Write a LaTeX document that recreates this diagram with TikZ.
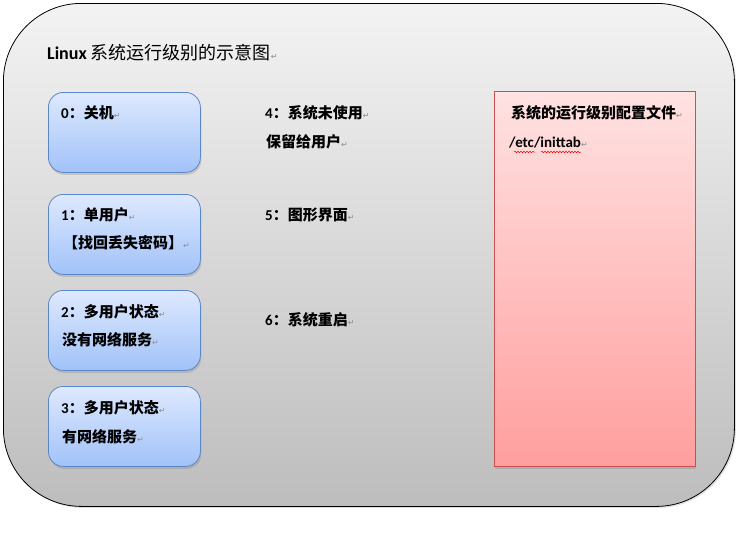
\documentclass[tikz,border=0pt]{standalone}
\usepackage{fontspec}
\setmainfont{Carlito}
\newfontfamily\cjk{Noto Sans CJK SC}
\newfontfamily\dv{DejaVu Sans}
\usetikzlibrary{shadows,decorations.pathmorphing}
\definecolor{outtop}{HTML}{F3F3F3}
\definecolor{outbot}{HTML}{BDBDBD}
\definecolor{bluetop}{HTML}{DEE9FE}
\definecolor{bluebot}{HTML}{A1C2F9}
\definecolor{blueline}{HTML}{5C87C5}
\definecolor{redtop}{HTML}{FFE2E2}
\definecolor{redbot}{HTML}{FF9E9E}
\definecolor{redline}{HTML}{C9504D}
\definecolor{retgray}{HTML}{8C8C8C}
\newcommand\rtmark{{\dv\fontsize{8}{8}\selectfont\mdseries\color{retgray}↵}}
\begin{document}
\begin{tikzpicture}[x=1pt,y=-1pt,
  outerbox/.style={draw=black, line width=0.8pt, top color=outtop, bottom color=outbot,
    rounded corners=78pt, anchor=north west, inner sep=0pt,
    drop shadow={opacity=0.25, shadow xshift=1.5pt, shadow yshift=-1.5pt}},
  bluebox/.style={draw=blueline, line width=0.8pt, top color=bluetop, bottom color=bluebot,
    rounded corners=15pt, anchor=north west, inner sep=0pt,
    minimum width=152pt, minimum height=80pt,
    drop shadow={opacity=0.3, shadow xshift=1pt, shadow yshift=-2.5pt}},
  redbox/.style={draw=redline, line width=0.8pt, top color=redtop, bottom color=redbot,
    anchor=north west, inner sep=0pt,
    drop shadow={opacity=0.3, shadow xshift=1pt, shadow yshift=-2.5pt}},
  txt/.style={anchor=west, inner sep=0pt, font=\fontsize{15}{15}\selectfont\bfseries},
  wavy/.style={draw=red, line width=0.5pt, decorate,
    decoration={snake, amplitude=0.8pt, segment length=3pt}}
]
\useasboundingbox (0,0) rectangle (742,542);
\node[outerbox, minimum width=731pt, minimum height=503pt] (frame) at (3,3) {};
\node[anchor=west, inner sep=0pt, font=\fontsize{18}{18}\selectfont] (title) at (47,53)
  {\textbf{Linux} \cjk 系统运行级别的示意图\rtmark};
% blue boxes
\node[bluebox] (b0) at (48,92) {};
\node[bluebox] (b1) at (48,194) {};
\node[bluebox] (b2) at (48,290) {};
\node[bluebox] (b3) at (48,386) {};
% red box
\node[redbox, minimum width=201pt, minimum height=375pt] (cfg) at (494,91) {};
% texts in blue boxes
\node[txt] (t0) at (61,113) {0{\cjk：关机}\rtmark};
\node[txt] (t1a) at (61,215) {1{\cjk：单用户}\rtmark};
\node[txt] (t1b) at (63,243) {{\cjk【找回丢失密码】}\rtmark};
\node[txt] (t2a) at (61,312) {2{\cjk：多用户状态}\rtmark};
\node[txt] (t2b) at (62,340) {{\cjk 没有网络服务}\rtmark};
\node[txt] (t3a) at (61,408) {3{\cjk：多用户状态}\rtmark};
\node[txt] (t3b) at (62,437) {{\cjk 有网络服务}\rtmark};
% middle texts
\node[txt] (t4a) at (265,113) {4{\cjk：系统未使用}\rtmark};
\node[txt] (t4b) at (266,142) {{\cjk 保留给用户}\rtmark};
\node[txt] (t5) at (265,215) {5{\cjk：图形界面}\rtmark};
\node[txt] (t6) at (265,320) {6{\cjk：系统重启}\rtmark};
% red box texts
\node[txt] (r1) at (511,113) {{\cjk 系统的运行级别配置文件}\rtmark};
\node[txt] (r2) at (509,143) {/etc/inittab\rtmark};
\coordinate (w1s) at (514,152);
\coordinate (w1e) at (535,152);
\coordinate (w2s) at (541,152);
\coordinate (w2e) at (581,152);
\draw[wavy] (w1s) -- (w1e);
\draw[wavy] (w2s) -- (w2e);
\end{tikzpicture}
\end{document}
